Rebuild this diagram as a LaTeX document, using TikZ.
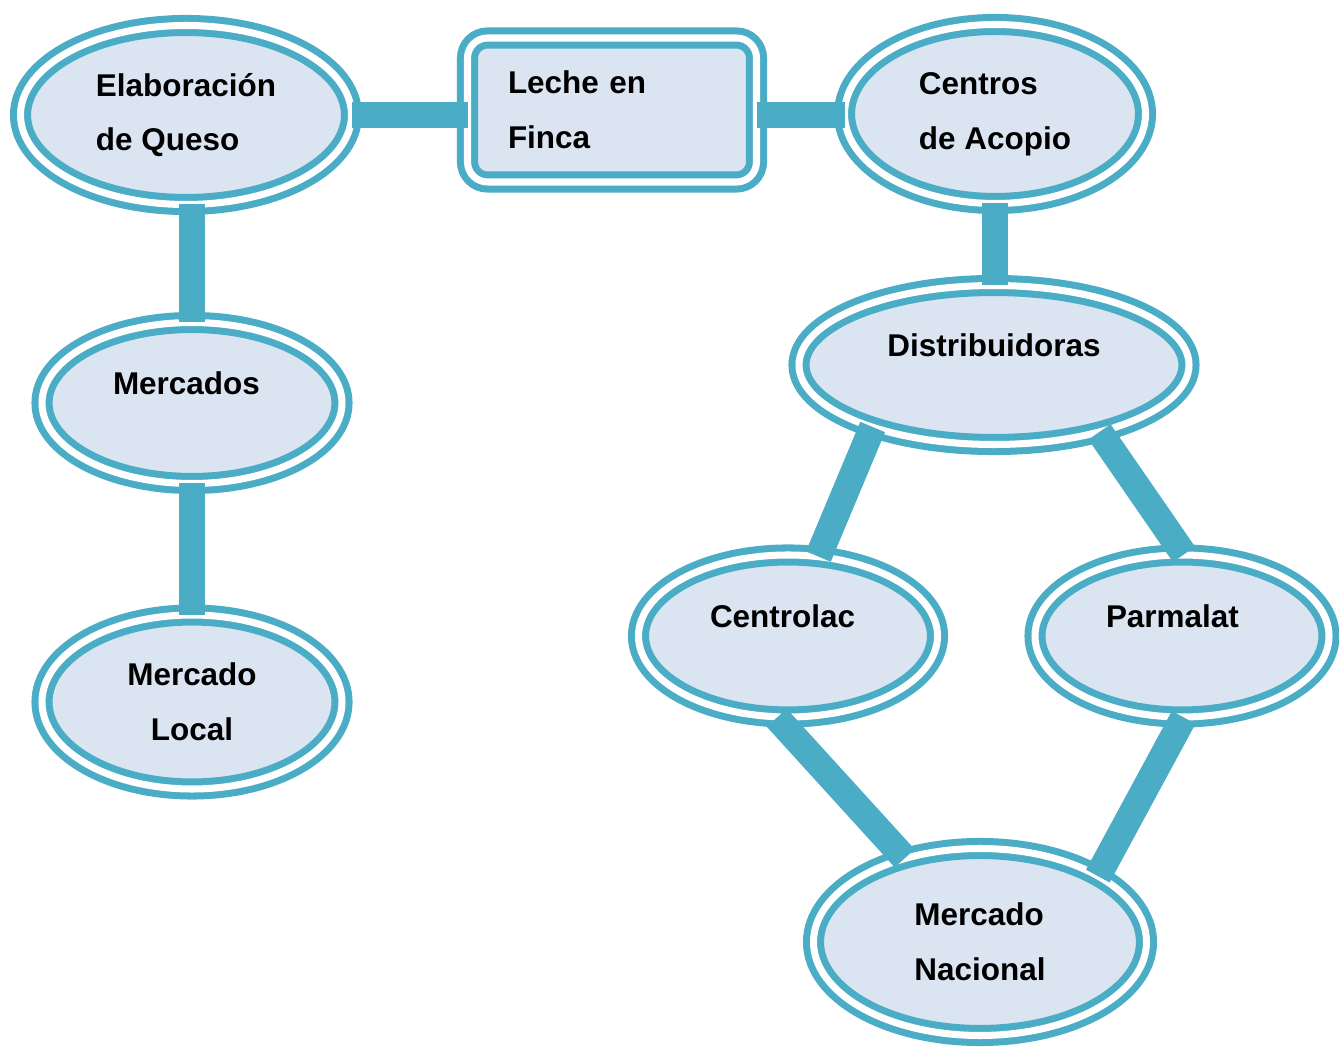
\documentclass[tikz,border=0pt]{standalone}
\usepackage{fontspec}
\setmainfont{Liberation Sans}
\usetikzlibrary{positioning, shapes.geometric}
\definecolor{ringblue}{HTML}{4BACC6}
\definecolor{ringfill}{HTML}{DBE5F1}

\begin{document}
\begin{tikzpicture}[ring/.style={ellipse, draw=ringblue, line width=4pt, double=white, double distance=4pt, fill=ringfill, inner sep=0pt, align=left, font=\bfseries\fontsize{17.9}{31.2}\selectfont}, box/.style={ring, rectangle, rounded corners=0.4cm}, oneline/.style={text depth=0.8cm}, link/.style={draw=ringblue, line width=15.3pt, shorten <=-2pt, shorten >=-2pt}]
		\useasboundingbox (0,0) rectangle (26.78,20.92);

		\node[ring, minimum width=6.62cm, minimum height=3.58cm] (elab) at (3.72,18.62) {Elaboración\\de Queso};
		\node[box, minimum width=5.78cm, minimum height=2.88cm, text width=4.16cm] (leche) at (12.24,18.72) {Leche en\\Finca};
		\node[ring, minimum width=6.02cm, minimum height=3.58cm] (acopio) at (19.9,18.64) {Centros\\de Acopio};

		\node[ring, oneline, minimum width=7.8cm, minimum height=3.18cm] (distrib) at (19.88,13.62) {Distribuidoras};
		\node[ring, oneline, minimum width=6cm, minimum height=3.22cm, text width=3.16cm] (mercados) at (3.84,12.86) {Mercados};
		\node[ring, align=center, minimum width=6cm, minimum height=3.48cm] (local) at (3.84,6.88) {Mercado\\Local};

		\node[ring, oneline, minimum width=5.98cm, minimum height=3.24cm, text width=3.12cm] (centrolac) at (15.76,8.2) {Centrolac};
		\node[ring, oneline, minimum width=5.88cm, minimum height=3.24cm, text width=3.04cm] (parmalat) at (23.64,8.2) {Parmalat};
		\node[ring, minimum width=6.66cm, minimum height=3.74cm] (nacional) at (19.6,2.08) {Mercado\\Nacional};

		% connectors on top of the rings
		\draw[link] (elab.east) -- (elab.east -| leche.west);
		\draw[link] (leche.east |- elab.east) -- (leche.east |- elab.east -| acopio.west);
		\draw[link] (elab.south -| mercados.north) -- (mercados.north);
		\draw[link] (mercados.south) -- (local.north);
		\draw[link] (acopio.south) -- (acopio.south |- distrib.north);
		\draw[link] (distrib.208) -- (centrolac.69);
		\draw[link] (distrib.327) -- (parmalat.north);
		\draw[link] (centrolac.264) -- (nacional.132);
		\draw[link] (parmalat.south) -- (nacional.30);
	\end{tikzpicture}
\end{document}
